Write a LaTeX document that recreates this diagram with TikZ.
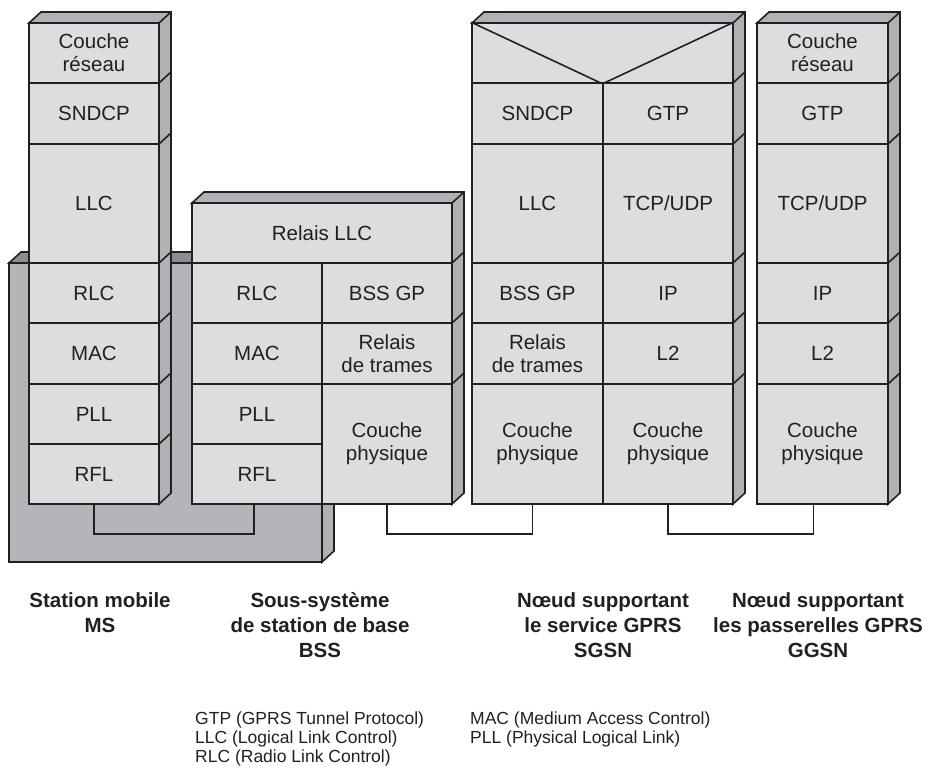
\documentclass[tikz,border=0pt]{standalone}
\usepackage{fontspec}
\setmainfont{Liberation Sans}

\definecolor{cellgray}{RGB}{220,221,223}
\definecolor{sidegray}{RGB}{176,177,181}
\definecolor{slabgray}{RGB}{180,181,184}
\definecolor{slabtop}{RGB}{140,141,145}
\definecolor{inkgray}{RGB}{35,31,32}

\tikzset{
  layer/.style 2 args={draw=inkgray, fill=cellgray, line width=1.6pt, inner sep=0pt,
    minimum width=#1pt, minimum height=#2pt, align=center, text=inkgray,
    font=\fontsize{20.5}{23}\selectfont},
  face/.style={draw=inkgray, fill=sidegray, line width=1.6pt},
  link/.style={draw=inkgray, line width=1.6pt},
  stacktitle/.style={anchor=north, align=center, inner sep=0pt, text=inkgray,
    font=\bfseries\fontsize{20.5}{25}\selectfont},
  glossary/.style={anchor=base west, inner sep=0pt, text=inkgray,
    font=\fontsize{17.5}{19}\selectfont}
}

\begin{document}
\begin{tikzpicture}[x=1pt, y=-1pt]
  \useasboundingbox (0,0) rectangle (931,773);

  % socle commun MS / BSS
  \draw[link, fill=slabgray] (9,263) rectangle (322,562);
  \draw[face, fill=slabtop] (9,263) -- (21,252) -- (334,252) -- (322,263) -- cycle;
  \draw[face] (322,263) -- (334,252) -- (334,551) -- (322,562) -- cycle;

  % dessus et flanc des piles
  \foreach \xa/\xb/\ya in {29/159/23, 192/452/203, 472/733/23, 757/888/23}
    \draw[face] (\xa,\ya) -- ++(12,-11) -- (\xb+12,\ya-11) -- (\xb+12,493) -- (\xb,504) -- (\xb,\ya) -- cycle;
  \foreach \x/\y in {159/23,159/83,159/144,159/263,159/323,159/384,159/444,
                     452/203,452/263,452/323,452/384,
                     733/23,733/83,733/144,733/263,733/323,733/384,
                     888/23,888/83,888/144,888/263,888/323,888/384}
    \draw[link] (\x,\y) -- ++(12,-11);

  % MS
  \node[layer={130}{60}] (msNet) at (94,53) {Couche\\réseau};
  \node[layer={130}{61}] (msSndcp) at (94,113.5) {SNDCP};
  \node[layer={130}{119}] (msLlc) at (94,203.5) {LLC};
  \node[layer={130}{60}] (msRlc) at (94,293) {RLC};
  \node[layer={130}{61}] (msMac) at (94,353.5) {MAC};
  \node[layer={130}{60}] (msPll) at (94,414) {PLL};
  \node[layer={130}{60}] (msRfl) at (94,474) {RFL};

  % BSS
  \node[layer={260}{60}] (bssRelay) at (322,233) {Relais LLC};
  \node[layer={130}{60}] (bssRlc) at (257,293) {RLC};
  \node[layer={130}{61}] (bssMac) at (257,353.5) {MAC};
  \node[layer={130}{60}] (bssPll) at (257,414) {PLL};
  \node[layer={130}{60}] (bssRfl) at (257,474) {RFL};
  \node[layer={130}{60}] (bssGp) at (387,293) {BSS GP};
  \node[layer={130}{61}] (bssFr) at (387,353.5) {Relais\\de trames};
  \node[layer={130}{120}] (bssPhy) at (387,444) {Couche\\physique};

  % SGSN
  \node[layer={261}{60}] (sgsnTop) at (602.5,53) {};
  \draw[link] (sgsnTop.north west) -- (sgsnTop.south) -- (sgsnTop.north east);
  \node[layer={131}{61}] (sgsnSndcp) at (537.5,113.5) {SNDCP};
  \node[layer={130}{61}] (sgsnGtp) at (668,113.5) {GTP};
  \node[layer={131}{119}] (sgsnLlc) at (537.5,203.5) {LLC};
  \node[layer={130}{119}] (sgsnTcp) at (668,203.5) {TCP/UDP};
  \node[layer={131}{60}] (sgsnGp) at (537.5,293) {BSS GP};
  \node[layer={130}{60}] (sgsnIp) at (668,293) {IP};
  \node[layer={131}{61}] (sgsnFr) at (537.5,353.5) {Relais\\de trames};
  \node[layer={130}{61}] (sgsnL2) at (668,353.5) {L2};
  \node[layer={131}{120}] (sgsnPhyA) at (537.5,444) {Couche\\physique};
  \node[layer={130}{120}] (sgsnPhyB) at (668,444) {Couche\\physique};

  % GGSN
  \node[layer={131}{60}] (ggsnNet) at (822.5,53) {Couche\\réseau};
  \node[layer={131}{61}] (ggsnGtp) at (822.5,113.5) {GTP};
  \node[layer={131}{119}] (ggsnTcp) at (822.5,203.5) {TCP/UDP};
  \node[layer={131}{60}] (ggsnIp) at (822.5,293) {IP};
  \node[layer={131}{61}] (ggsnL2) at (822.5,353.5) {L2};
  \node[layer={131}{120}] (ggsnPhy) at (822.5,444) {Couche\\physique};

  % liaisons physiques
  \draw[link] (msRfl.south) -- ++(0,29) -| ([xshift=-3pt]bssRfl.south);
  \draw[link] (bssPhy.south) -- ++(0,29) -| ([xshift=-5pt]sgsnPhyA.south);
  \draw[link] (sgsnPhyB.south) -- ++(0,29) -| ([xshift=-9pt]ggsnPhy.south);

  % noms des equipements
  \node[stacktitle] (msName) at (100,592) {Station mobile\\MS};
  \node[stacktitle] (bssName) at (320,592) {Sous-système\\de station de base\\BSS};
  \node[stacktitle] (sgsnName) at (603,592) {Nœud supportant\\le service GPRS\\SGSN};
  \node[stacktitle] (ggsnName) at (818,592) {Nœud supportant\\les passerelles GPRS\\GGSN};

  % sigles
  \node[glossary] (gtpDef) at (195,724) {GTP (GPRS Tunnel Protocol)};
  \node[glossary] (llcDef) at (195,743) {LLC (Logical Link Control)};
  \node[glossary] (rlcDef) at (195,762) {RLC (Radio Link Control)};
  \node[glossary] (macDef) at (470,724) {MAC (Medium Access Control)};
  \node[glossary] (pllDef) at (470,743) {PLL (Physical Logical Link)};
\end{tikzpicture}
\end{document}
